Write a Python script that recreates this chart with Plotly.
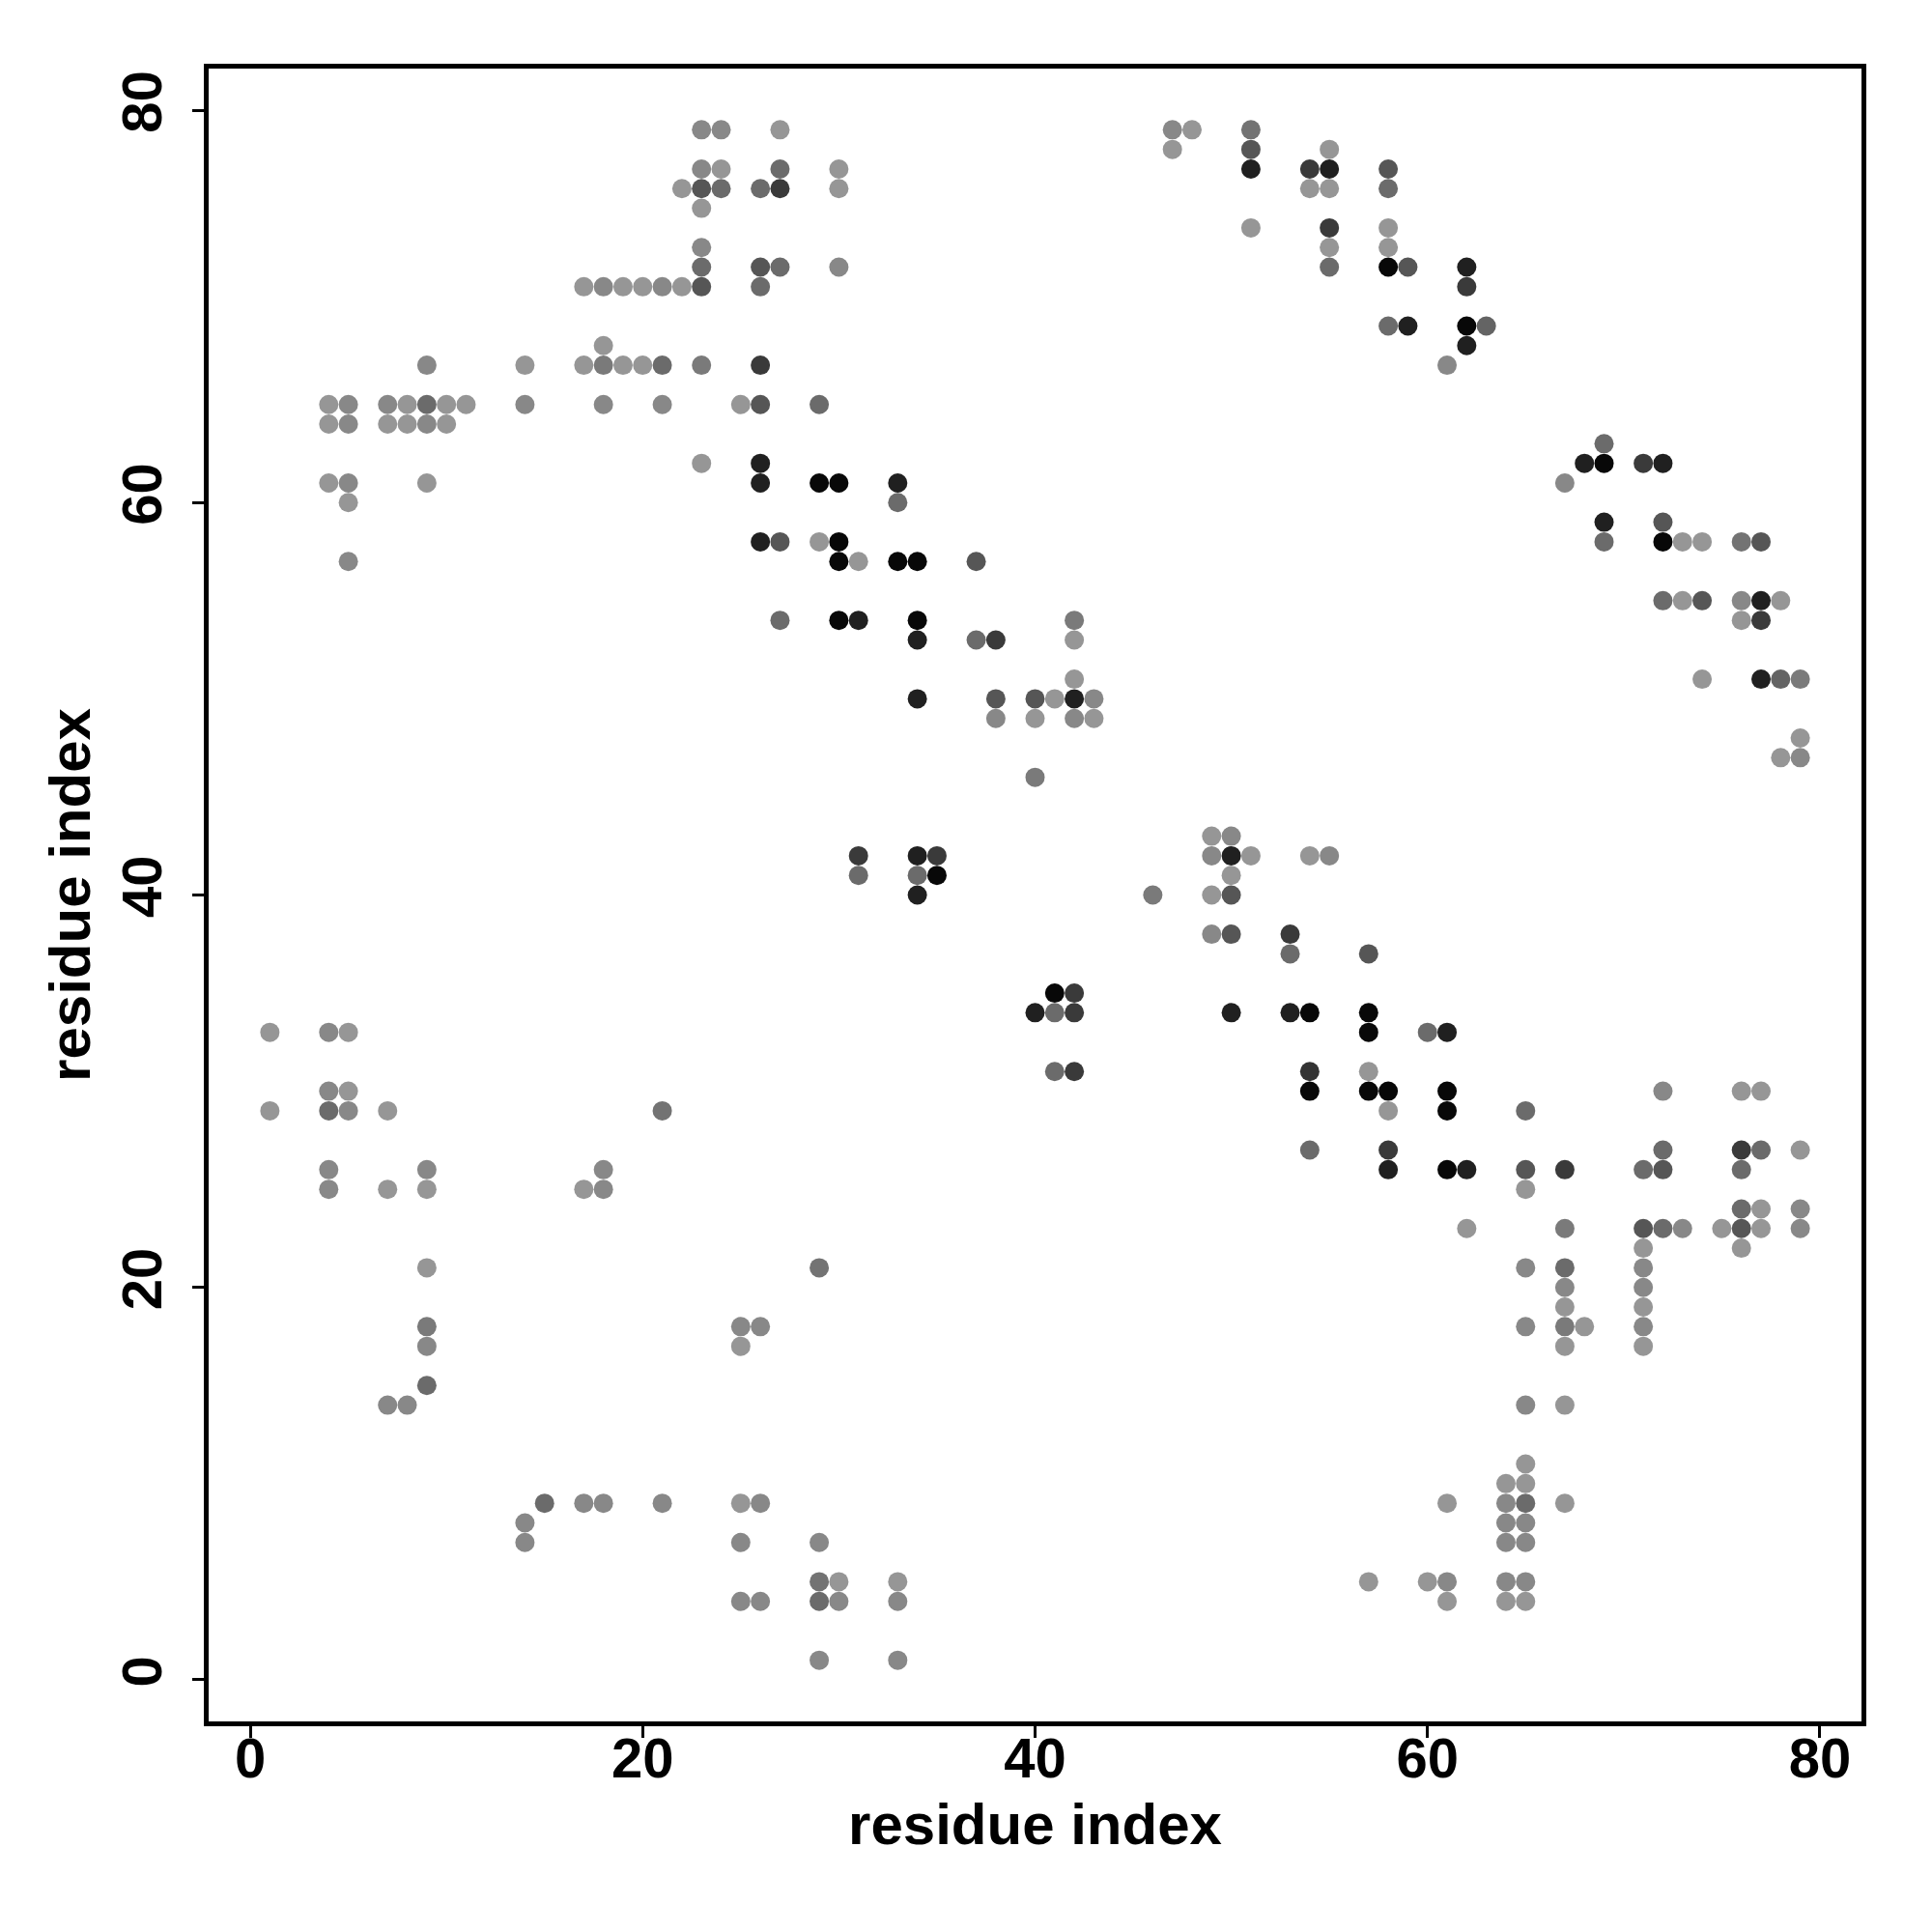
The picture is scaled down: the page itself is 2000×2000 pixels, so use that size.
import plotly.graph_objects as go

# shade codes -> contact strength (0 = light grey, 1 = black)
L, M, M2, D1, D2, D3, K1, K = 0.0, 0.1, 0.2, 0.3, 0.45, 0.65, 0.83, 1.0

points = [
    (1, 33, L), (1, 29, L),
    (4, 65, L), (4, 64, L), (4, 61, L), (4, 33, M), (4, 30, M), (4, 29, D1), (4, 26, M), (4, 25, M),
    (5, 65, M), (5, 64, M), (5, 61, M), (5, 60, L), (5, 57, M), (5, 33, L), (5, 30, L), (5, 29, M),
    (7, 65, M), (7, 64, L), (7, 29, L), (7, 25, L), (7, 14, M),
    (8, 65, L), (8, 64, L), (8, 14, M),
    (9, 67, M), (9, 65, D1), (9, 64, M), (9, 61, L), (9, 26, M), (9, 25, L), (9, 21, L), (9, 18, M2), (9, 17, M), (9, 15, D1),
    (10, 65, L), (10, 64, L),
    (11, 65, L),
    (14, 67, L), (14, 65, M), (14, 8, M), (14, 7, M),
    (15, 9, D1),
    (17, 71, L), (17, 67, L), (17, 25, L), (17, 9, M),
    (18, 71, M), (18, 68, L), (18, 67, M2), (18, 65, M), (18, 26, M), (18, 25, M), (18, 9, M),
    (19, 71, L), (19, 67, L),
    (20, 71, L), (20, 67, L),
    (21, 71, M), (21, 67, D1), (21, 65, M), (21, 29, 0.25), (21, 9, M),
    (22, 76, L), (22, 71, L),
    (23, 79, M), (23, 77, M), (23, 76, D2), (23, 75, L), (23, 73, M), (23, 72, D1), (23, 71, D2), (23, 67, M2), (23, 62, L),
    (24, 79, M), (24, 77, L), (24, 76, D1),
    (25, 65, L), (25, 18, M), (25, 17, L), (25, 9, L), (25, 7, M), (25, 4, M),
    (26, 76, D1), (26, 72, D2), (26, 71, D1), (26, 67, D3), (26, 65, D2), (26, 62, K1), (26, 61, K1), (26, 58, K1),
    (26, 18, M), (26, 9, M), (26, 4, M),
    (27, 79, L), (27, 77, D1), (27, 76, D3), (27, 72, D1), (27, 58, D2), (27, 54, D1),
    (29, 65, D1), (29, 61, K), (29, 58, L), (29, 21, 0.25), (29, 7, M), (29, 5, 0.25), (29, 4, D1), (29, 1, M),
    (30, 77, L), (30, 76, L), (30, 72, M), (30, 61, K), (30, 58, K), (30, 57, K), (30, 54, K), (30, 5, L), (30, 4, M),
    (31, 57, L), (31, 54, K1), (31, 42, D3), (31, 41, D1),
    (33, 61, K1), (33, 60, D1), (33, 57, K), (33, 5, L), (33, 4, M), (33, 1, M),
    (34, 57, K), (34, 54, K), (34, 53, K1), (34, 50, K1), (34, 42, K1), (34, 41, D1), (34, 40, K1),
    (35, 42, D3), (35, 41, K),
    (37, 57, D2), (37, 53, D1),
    (38, 53, D3), (38, 50, D2), (38, 49, M),
    (40, 50, D2), (40, 49, L), (40, 46, M2), (40, 34, K1),
    (41, 50, L), (41, 35, K), (41, 34, D1), (41, 31, D1),
    (42, 54, M2), (42, 53, L), (42, 51, L), (42, 50, K1), (42, 49, M), (42, 35, D3), (42, 34, D3), (42, 31, D3),
    (43, 50, M), (43, 49, L),
    (46, 40, M2),
    (47, 79, M), (47, 78, L),
    (48, 79, L),
    (49, 43, L), (49, 42, M), (49, 40, L), (49, 38, M),
    (50, 43, M), (50, 42, K1), (50, 41, L), (50, 40, D2), (50, 38, D2), (50, 34, K1),
    (51, 79, 0.25), (51, 78, D2), (51, 77, K1), (51, 74, L), (51, 42, L),
    (53, 38, D3), (53, 37, D1), (53, 34, K1),
    (54, 77, D3), (54, 76, L), (54, 42, L), (54, 34, K), (54, 31, 0.7), (54, 30, K), (54, 27, D1),
    (55, 78, L), (55, 77, K1), (55, 76, L), (55, 74, D3), (55, 73, L), (55, 72, D1), (55, 42, M),
    (57, 37, D2), (57, 34, K), (57, 33, K), (57, 31, L), (57, 30, K), (57, 5, L),
    (58, 77, D2), (58, 76, D1), (58, 74, L), (58, 73, L), (58, 72, K), (58, 69, D1), (58, 30, K), (58, 29, L),
    (58, 27, D3), (58, 26, K1),
    (59, 72, D2), (59, 69, K1),
    (60, 33, D1), (60, 5, L),
    (61, 67, M), (61, 33, K1), (61, 30, K), (61, 29, K), (61, 26, K), (61, 9, L), (61, 5, M), (61, 4, L),
    (62, 72, K1), (62, 71, D3), (62, 69, K), (62, 68, K1), (62, 26, K1), (62, 23, L),
    (63, 69, 0.35),
    (64, 10, L), (64, 9, M), (64, 8, M), (64, 7, M), (64, 5, M), (64, 4, L),
    (65, 29, D1), (65, 26, D2), (65, 25, L), (65, 21, M), (65, 18, M), (65, 14, M), (65, 11, L), (65, 10, L),
    (65, 9, D1), (65, 8, M), (65, 7, M), (65, 5, M), (65, 4, L),
    (67, 61, M), (67, 26, D3), (67, 23, M2), (67, 21, D1), (67, 20, M), (67, 19, L), (67, 18, M2), (67, 17, L),
    (67, 14, L), (67, 9, L),
    (68, 62, K1), (68, 18, L),
    (69, 63, D1), (69, 62, K), (69, 59, K1), (69, 58, D1),
    (71, 62, D3), (71, 26, D1), (71, 23, D2), (71, 22, L), (71, 21, M), (71, 20, M), (71, 19, L), (71, 18, M), (71, 17, L),
    (72, 62, K1), (72, 59, D2), (72, 58, K), (72, 55, D1), (72, 30, M), (72, 27, D1), (72, 26, D2), (72, 23, D1),
    (73, 58, L), (73, 55, L), (73, 23, M),
    (74, 58, L), (74, 55, D2), (74, 51, L),
    (75, 23, L),
    (76, 58, 0.25), (76, 55, M), (76, 54, L), (76, 30, L), (76, 27, D3), (76, 26, D1), (76, 24, D1), (76, 23, D2), (76, 22, L),
    (77, 58, D2), (77, 55, K1), (77, 54, D3), (77, 51, K1), (77, 30, L), (77, 27, D1), (77, 24, L), (77, 23, L),
    (78, 55, L), (78, 51, 0.35), (78, 47, L),
    (79, 51, M2), (79, 48, L), (79, 47, M), (79, 27, L), (79, 24, M), (79, 23, M),
]

residue_i = [p[0] for p in points]
residue_j = [p[1] for p in points]
strength = [p[2] for p in points]

tick_vals = [0, 20, 40, 60, 80]
tick_text = ["0", "20", "40", "60", "80"]

fig = go.Figure(
    go.Scatter(
        x=residue_i,
        y=residue_j,
        mode="markers",
        marker=dict(
            size=20,
            color=strength,
            cmin=0,
            cmax=1,
            colorscale=[[0, "rgb(150,150,150)"], [1, "rgb(8,8,8)"]],
            line=dict(width=0),
            showscale=False,
        ),
        showlegend=False,
    )
)

font_family = "Liberation Sans, Arial, sans-serif"
axis_common = dict(
    range=[-2.12, 82.12],
    tickvals=tick_vals,
    ticktext=tick_text,
    ticks="outside",
    ticklen=12,
    tickwidth=3,
    tickcolor="black",
    showline=True,
    linewidth=5,
    linecolor="black",
    mirror=True,
    showgrid=False,
    zeroline=False,
    automargin=False,
    tickfont=dict(family=font_family, size=58, color="black", weight="bold"),
)

fig.update_layout(
    width=1992,
    height=1992,
    margin=dict(l=208, r=73, t=63, b=218),
    paper_bgcolor="white",
    plot_bgcolor="white",
    xaxis=dict(
        **axis_common,
        ticklabelstandoff=-29,
        title=dict(text="residue index", standoff=18,
                   font=dict(family=font_family, size=60, color="black", weight="bold")),
    ),
    yaxis=dict(
        **axis_common,
        tickangle=-90,
        ticklabelstandoff=9,
        title=dict(text="residue index", standoff=2,
                   font=dict(family=font_family, size=60, color="black", weight="bold")),
    ),
)

fig.write_html("out.html")
